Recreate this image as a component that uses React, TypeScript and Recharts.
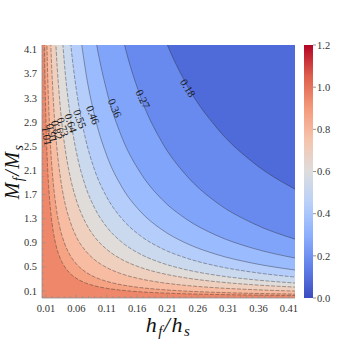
import {
  ComposedChart,
  Area,
  Line,
  Scatter,
  XAxis,
  YAxis,
  CartesianGrid,
  BarChart,
  Bar,
} from 'recharts'

// h_f/h_s sample positions (x) shared by every contour curve
const hf = [0.0035, 0.006, 0.008, 0.01, 0.012, 0.015, 0.018, 0.022, 0.027, 0.033, 0.04, 0.05, 0.06, 0.075, 0.09, 0.11, 0.135, 0.165, 0.2, 0.24, 0.29, 0.35, 0.42]

// M_f/M_s of each contour level at the hf positions (values above the frame are off-plot)
const m018 = [20, 20, 20, 20, 20, 20, 20, 20, 20, 20, 20, 20, 19.3, 14.7, 11.75, 9.2, 7.17, 5.61, 4.44, 3.55, 2.82, 2.24, 1.79]
const m027 = [20, 20, 20, 20, 20, 20, 20, 20, 20, 20, 20, 16.4, 12.9, 9.56, 7.5, 5.74, 4.37, 3.34, 2.585, 2.03, 1.575, 1.226, 0.961]
const m036 = [20, 20, 20, 20, 20, 20, 20, 20, 19.6, 15.3, 12.0, 9.11, 7.26, 5.5, 4.39, 3.42, 2.65, 2.07, 1.63, 1.3, 1.026, 0.812, 0.648]
const m046 = [20, 20, 20, 20, 20, 20, 20, 17.1, 13.3, 10.4, 8.19, 6.22, 4.97, 3.77, 3.01, 2.35, 1.825, 1.425, 1.124, 0.897, 0.71, 0.563, 0.449]
const m055 = [20, 20, 20, 20, 20, 18.2, 14.6, 11.5, 8.98, 7.05, 5.6, 4.28, 3.44, 2.63, 2.11, 1.66, 1.3, 1.02, 0.809, 0.65, 0.5175, 0.413, 0.332]
const m064 = [20, 20, 20, 20, 16.6, 12.7, 10.2, 8.03, 6.28, 4.94, 3.92, 3.0, 2.41, 1.84, 1.48, 1.163, 0.91, 0.715, 0.568, 0.456, 0.363, 0.29, 0.233]
const m073 = [20, 20, 16.8, 13.0, 10.5, 8.08, 6.53, 5.17, 4.07, 3.22, 2.575, 1.99, 1.61, 1.24, 1.0, 0.792, 0.624, 0.494, 0.395, 0.319, 0.256, 0.2055, 0.166]
const m082 = [20, 15.4, 10.9, 8.39, 6.76, 5.19, 4.18, 3.3, 2.585, 2.04, 1.62, 1.25, 1.0, 0.771, 0.621, 0.49, 0.384, 0.303, 0.241, 0.194, 0.155, 0.124, 0.1]
const m091 = [18.3, 9.42, 6.61, 5.02, 4.01, 3.05, 2.43, 1.9, 1.475, 1.15, 0.908, 0.69, 0.551, 0.4185, 0.334, 0.261, 0.203, 0.158, 0.125, 0.0997, 0.079, 0.0627, 0.05]
const m101 = [10.8, 5.53, 3.86, 2.92, 2.32, 1.76, 1.4, 1.09, 0.843, 0.656, 0.516, 0.39, 0.311, 0.235, 0.187, 0.146, 0.113, 0.0877, 0.069, 0.0549, 0.0433, 0.0342, 0.0273]

const levelLabels = ['0.18', '0.27', '0.36', '0.46', '0.55', '0.64', '0.73', '0.82', '0.91', '1.01']
const labelH = [0.2439, 0.1698, 0.1237, 0.0875, 0.0661, 0.0512, 0.0381, 0.0282, 0.02, 0.0117]
const labelM = [3.467, 3.285, 3.135, 3.019, 2.953, 2.887, 2.82, 2.771, 2.721, 2.671]

const xTicks = [0.01, 0.06, 0.11, 0.16, 0.21, 0.26, 0.31, 0.36, 0.41]
const yTicks = [0.1, 0.5, 0.9, 1.3, 1.7, 2.1, 2.5, 2.9, 3.3, 3.7, 4.1]
const xMinor = [0.01, 0.02, 0.03, 0.04, 0.05, 0.06, 0.07, 0.08, 0.09, 0.1, 0.11, 0.12, 0.13, 0.14, 0.15, 0.16, 0.17, 0.18, 0.19, 0.2, 0.21, 0.22, 0.23, 0.24, 0.25, 0.26, 0.27, 0.28, 0.29, 0.3, 0.31, 0.32, 0.33, 0.34, 0.35, 0.36, 0.37, 0.38, 0.39, 0.4, 0.41]
const yMinor = [0, 0.1, 0.2, 0.3, 0.4, 0.5, 0.6, 0.7, 0.8, 0.9, 1.0, 1.1, 1.2, 1.3, 1.4, 1.5, 1.6, 1.7, 1.8, 1.9, 2.0, 2.1, 2.2, 2.3, 2.4, 2.5, 2.6, 2.7, 2.8, 2.9, 3.0, 3.1, 3.2, 3.3, 3.4, 3.5, 3.6, 3.7, 3.8, 3.9, 4.0, 4.1]
const cbTicks = [0, 0.2, 0.4, 0.6, 0.8, 1.0, 1.2]

// styles
const bandColors = ['#4f6ad9', '#6889ee', '#81a4fb', '#9bbbff', '#b4cdfb', '#cbd9ef', '#dfdcda', '#efcfbe', '#f7bca1', '#f6a384', '#ef886a']
const labelAngle = [58, 64, 66, 68, 70, 72, 74, 76, 78, 80]
const cbStops = ['#3b4cc0', '#6282ea', '#8db0fe', '#b8d0f9', '#dddddd', '#f5c4ad', '#f49a7b', '#de604d', '#b40426']
const serif = "'Liberation Serif', 'DejaVu Serif', serif"
const frame = '#8f8f8f'

const curves = [m018, m027, m036, m046, m055, m064, m073, m082, m091, m101]
const keys = curves.map((_, i) => 'c' + i)
const rows = hf.map((h, i) => {
  const r: Record<string, number> = { h }
  curves.forEach((c, j) => (r[keys[j]] = c[i]))
  return r
})
const labelRows = levelLabels.map((t, i) => ({ h: labelH[i], M: labelM[i], t, a: labelAngle[i] }))

const isMajor = (v: number, list: number[]) => list.some((t) => Math.abs(t - v) < 1e-6)

const BottomTick = (p: any) => {
  const v = p.payload.value
  const major = isMajor(v, xTicks)
  return (
    <g>
      <line x1={p.x} x2={p.x} y1={p.y} y2={p.y - (major ? 3.5 : 2)} stroke={frame} strokeWidth={0.7} />
      {major && (
        <text x={p.x} y={p.y + 10} textAnchor="middle" dominantBaseline="central" fontSize={10.5} fontFamily={serif} fill="#333">
          {v.toFixed(2)}
        </text>
      )}
    </g>
  )
}
const TopTick = (p: any) => {
  const major = isMajor(p.payload.value, xTicks)
  return <line x1={p.x} x2={p.x} y1={p.y} y2={p.y + (major ? 3.5 : 2)} stroke={frame} strokeWidth={0.7} />
}
const LeftTick = (p: any) => {
  const v = p.payload.value
  const major = isMajor(v, yTicks)
  return (
    <g>
      <line x1={p.x} x2={p.x + (major ? 3.5 : 2)} y1={p.y} y2={p.y} stroke={frame} strokeWidth={0.7} />
      {major && (
        <text x={p.x - 5} y={p.y} textAnchor="end" dominantBaseline="central" fontSize={10.5} fontFamily={serif} fill="#333">
          {v.toFixed(1)}
        </text>
      )}
    </g>
  )
}
const RightTick = (p: any) => {
  const major = isMajor(p.payload.value, yTicks)
  return <line x1={p.x} x2={p.x - (major ? 3.5 : 2)} y1={p.y} y2={p.y} stroke={frame} strokeWidth={0.7} />
}

// y axis title, placed from the axis box the library hands over
const YLabel = (p: any) => {
  const vb = p.viewBox || { x: 12, y: 45, height: 253 }
  const x = vb.x + 7
  const y = vb.y + vb.height / 2
  return (
    <text transform={`rotate(-90 ${x} ${y})`} x={x} y={y} textAnchor="middle" fontFamily={serif} fontStyle="italic" fontSize={20} fill="#111" letterSpacing={1.5}>
      <tspan>M</tspan>
      <tspan fontSize={14} dy={4}>f</tspan>
      <tspan dy={-4}>/M</tspan>
      <tspan fontSize={14} dy={4}>s</tspan>
    </text>
  )
}
const XLabel = (p: any) => {
  const vb = p.viewBox || { x: 42, y: 298, width: 253 }
  const x = vb.x + vb.width / 2
  const y = vb.y + 34
  return (
    <text x={x} y={y} textAnchor="middle" fontFamily={serif} fontStyle="italic" fontSize={22} fill="#111" letterSpacing={1.5}>
      <tspan>h</tspan>
      <tspan fontSize={15} dy={4}>f</tspan>
      <tspan dy={-4}>/h</tspan>
      <tspan fontSize={15} dy={4}>s</tspan>
    </text>
  )
}

const ContourLabel = (p: any) => {
  const { cx, cy, payload } = p
  return (
    <text x={cx} y={cy} transform={`rotate(${payload.a} ${cx} ${cy})`} textAnchor="middle" dominantBaseline="central" fontSize={11} fontFamily={serif} fill="#1a1a1a">
      {payload.t}
    </text>
  )
}

const xDomain: [number, number] = [0.0035, 0.42]
const yDomain: [number, number] = [-0.015, 4.18]

export default function App() {
  return (
    <div style={{ position: 'absolute', left: 0, top: 0, width: 356, height: 356, background: '#fff' }}>
      <div style={{ position: 'absolute', left: 0, top: 0 }}>
        <ComposedChart width={356} height={356} data={rows} margin={{ top: 45, right: 61, bottom: 28, left: 12 }}>
          <CartesianGrid horizontal={false} vertical={false} fill={bandColors[0]} />
          <XAxis
            dataKey="h"
            type="number"
            domain={xDomain}
            allowDataOverflow
            ticks={xMinor}
            interval={0}
            tickSize={0}
            tickMargin={0}
            height={30}
            axisLine={{ stroke: frame, strokeWidth: 0.8 }}
            tick={<BottomTick />}
            label={<XLabel />}
          />
          <XAxis
            xAxisId="top"
            orientation="top"
            dataKey="h"
            type="number"
            domain={xDomain}
            allowDataOverflow
            ticks={xMinor}
            interval={0}
            tickSize={0}
            tickMargin={0}
            height={0}
            axisLine={{ stroke: frame, strokeWidth: 0.8 }}
            tick={<TopTick />}
          />
          <YAxis
            type="number"
            domain={yDomain}
            allowDataOverflow
            ticks={yMinor}
            interval={0}
            tickSize={0}
            tickMargin={0}
            width={30}
            axisLine={{ stroke: frame, strokeWidth: 0.8 }}
            tick={<LeftTick />}
            label={<YLabel />}
          />
          <YAxis
            yAxisId="right"
            orientation="right"
            type="number"
            domain={yDomain}
            allowDataOverflow
            ticks={yMinor}
            interval={0}
            tickSize={0}
            tickMargin={0}
            width={0}
            axisLine={{ stroke: frame, strokeWidth: 0.8 }}
            tick={<RightTick />}
          />
          {keys.map((k, i) => (
            <Area
              key={'a' + k}
              dataKey={k}
              type="monotone"
              baseValue="dataMin"
              fill={bandColors[i + 1]}
              fillOpacity={1}
              stroke="none"
              dot={false}
              activeDot={false}
              isAnimationActive={false}
            />
          ))}
          {keys.map((k, i) => (
            <Line
              key={'l' + k}
              dataKey={k}
              type="monotone"
              stroke="#2b2b2b"
              strokeOpacity={0.7}
              strokeWidth={0.6}
              strokeDasharray={i >= 4 ? '4 1.5' : undefined}
              dot={false}
              activeDot={false}
              isAnimationActive={false}
            />
          ))}
          <Scatter data={labelRows} dataKey="M" shape={<ContourLabel />} isAnimationActive={false} />
        </ComposedChart>
      </div>
      <div style={{ position: 'absolute', left: 296, top: 0 }}>
        <BarChart width={60} height={356} data={[{ k: 'cb', v: 1.2 }]} margin={{ top: 45, right: 9, bottom: 58, left: 8 }} barCategoryGap={0}>
          <defs>
            <linearGradient id="cbGrad" x1="0" y1="1" x2="0" y2="0">
              {cbStops.map((c, i) => (
                <stop key={i} offset={`${(i / (cbStops.length - 1)) * 100}%`} stopColor={c} />
              ))}
            </linearGradient>
          </defs>
          <XAxis dataKey="k" hide />
          <YAxis
            orientation="right"
            type="number"
            domain={[0, 1.2]}
            ticks={cbTicks}
            interval={0}
            width={34}
            tickSize={3}
            tickMargin={1}
            axisLine={false}
            tickLine={{ stroke: '#666', strokeWidth: 0.7 }}
            tick={{ fontSize: 10.5, fontFamily: serif, fill: '#333' }}
            tickFormatter={(v: number) => v.toFixed(1)}
          />
          <Bar dataKey="v" fill="url(#cbGrad)" isAnimationActive={false} />
        </BarChart>
      </div>
    </div>
  )
}
